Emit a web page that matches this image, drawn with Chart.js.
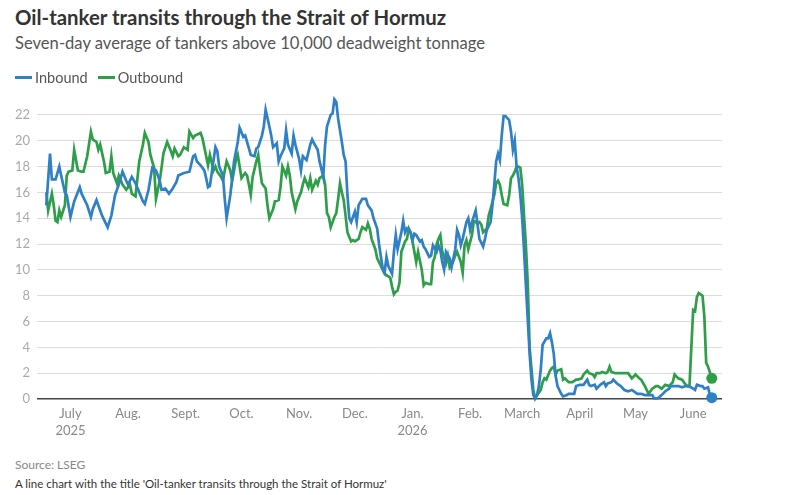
<!DOCTYPE html>
<html>
<head>
<meta charset="utf-8">
<script src="https://cdn.jsdelivr.net/npm/chart.js@4.4.1/dist/chart.umd.min.js"></script>
<style>
  body { margin: 0; width: 812px; height: 495px; background: #fff; font-family: Lato, "Noto Sans", sans-serif; position: relative; overflow: hidden; }
  #title { position: absolute; left: 15px; top: 5px; font-size: 20.4px; font-weight: 700; color: #333; white-space: nowrap; }
  #subtitle { position: absolute; left: 15px; top: 33px; font-size: 16.6px; color: #555; white-space: nowrap; }
  #legend { position: absolute; left: 15px; top: 69px; font-size: 14.5px; color: #555; display: flex; z-index: 2; }
  .key { display: flex; align-items: center; margin-right: 10px; }
  .swatch { width: 17px; height: 3px; margin-right: 3px; }
  #chartBox { position: absolute; left: 0; top: 82px; }
  #source { position: absolute; left: 15px; top: 457px; font-size: 12px; color: #888; }
  #caption { position: absolute; left: 15px; top: 477px; font-size: 11.5px; color: #333; white-space: nowrap; }
</style>
</head>
<body>
<div id="chartBox"><canvas id="hormuzChart" width="740" height="363"></canvas></div>
<div id="title">Oil-tanker transits through the Strait of Hormuz</div>
<div id="subtitle">Seven-day average of tankers above 10,000 deadweight tonnage</div>
<div id="legend">
  <div class="key"><span class="swatch" style="background:#2f80c5"></span>Inbound</div>
  <div class="key"><span class="swatch" style="background:#2e9e48"></span>Outbound</div>
</div>
<div id="source">Source: LSEG</div>
<div id="caption">A line chart with the title 'Oil-tanker transits through the Strait of Hormuz'</div>

<script>
// days counted from July 1, 2025
const inboundDays = [1,3,4,6,8,9,11,12,14,16,19,20,23,25,26,28,30,31,33,34,36,38,40,42,44,45,47,49,51,53,54,56,58,60,62,63,65,67,69,71,72,75,78,80,81,82,84,86,87,88,89,90,92,93,94,96,97,98,100,102,104,105,107,108,110,111,113,114,115,117,118,119,121,122,123,125,126,127,129,130,131,133,134,135,137,138,139,141,143,144,145,147,148,150,151,152,154,155,156,157,158,160,161,162,163,164,165,167,168,169,171,173,174,176,177,179,180,181,182,183,184,185,187,188,189,190,192,193,194,195,197,198,199,200,202,203,204,205,207,208,209,211,212,213,214,215,216,218,219,221,222,223,224,225,227,228,229,230,232,233,234,236,237,238,240,241,242,243,244,245,246,247,248,250,251,252,253,254,255,256,257,258,259,260,261,262,263,264,265,266,267,268,270,271,272,273,274,275,276,277,278,279,281,282,285,286,288,290,292,293,294,296,297,299,301,302,303,305,306,308,310,312,314,316,318,319,321,323,325,327,328,330,332,334,336,337,339,341,343,345,346,348,350,351,353,354,355,357,358,359];
const inboundTankers = [15.0,19.0,17.0,17.0,18.0,17.3,16.0,15.8,14.1,15.3,16.4,15.9,15.0,14.1,14.7,15.4,14.6,14.2,13.6,13.3,14.2,15.8,16.6,17.6,16.9,16.6,17.2,16.7,16.0,15.3,15.1,16.2,17.9,17.7,16.9,16.2,16.3,15.9,16.3,16.8,17.3,17.5,17.6,18.8,18.9,18.4,18.1,17.7,17.1,16.4,16.5,17.5,19.5,19.2,18.0,17.3,15.5,14.0,15.8,18.4,19.9,21.0,20.3,20.4,19.4,18.9,18.8,19.4,19.5,20.4,21.1,22.4,21.1,20.4,19.5,19.8,18.4,18.8,19.4,20.8,19.7,19.0,20.4,19.7,18.6,17.7,18.8,18.5,19.7,20.1,19.8,19.3,18.4,17.2,19.7,21.1,22.0,22.1,23.2,23.0,21.7,19.9,18.9,18.4,15.8,14.0,13.7,14.5,13.7,15.0,15.5,15.5,15.0,14.6,14.0,13.2,12.0,11.0,10.1,9.8,11.0,10.3,9.7,11.4,12.7,11.6,12.9,13.8,12.9,13.2,12.9,12.3,12.8,12.7,12.2,12.3,11.8,11.6,11.0,11.1,11.9,11.4,11.9,11.5,10.6,10.0,11.4,10.9,10.2,11.6,13.1,12.7,11.9,12.4,13.7,14.0,13.1,13.7,14.6,13.5,12.4,11.8,12.4,13.1,13.7,15.0,16.6,18.4,19.0,18.5,20.4,21.9,21.9,21.6,20.7,19.3,20.0,18.0,17.1,15.8,14.0,11.5,8.8,6.2,3.5,1.5,0.3,0.05,0.3,1.0,2.3,4.2,4.7,4.7,5.1,4.4,3.5,1.8,1.0,0.7,0.4,0.2,0.3,0.4,0.4,1.0,1.1,1.1,1.5,1.1,1.0,1.1,0.8,1.1,1.3,1.0,1.2,1.3,1.5,1.2,1.0,0.7,0.6,0.7,0.5,0.4,0.4,0.3,0.3,0.3,0.05,0.05,0.3,0.6,0.8,1.0,1.0,1.0,0.9,1.0,1.0,0.9,0.7,1.1,1.0,1.0,0.8,0.9,0.3,0.1];

const outboundDays = [1,2,4,5,6,7,8,9,11,12,13,15,16,18,20,21,23,25,26,28,29,30,32,33,35,36,37,39,40,42,44,46,47,49,51,53,54,56,57,59,60,62,63,64,66,68,69,70,72,73,75,77,78,80,81,84,85,87,88,89,91,92,93,95,96,97,98,100,101,102,103,104,105,106,108,109,110,111,112,114,115,116,117,119,120,121,123,124,126,127,128,130,131,132,133,135,136,138,139,140,142,143,144,146,147,148,150,151,152,153,154,156,157,158,159,160,161,162,163,165,166,167,169,170,171,173,174,175,176,178,179,180,182,183,184,186,187,188,189,190,191,192,194,195,196,197,198,200,201,203,204,205,207,208,209,210,211,212,213,214,216,217,218,220,221,222,224,225,226,227,228,230,231,233,234,235,236,238,239,240,242,243,244,245,246,247,249,250,251,252,253,254,255,256,257,258,259,260,261,263,264,265,267,268,269,270,272,273,274,275,276,278,279,280,282,284,286,287,289,290,292,293,295,296,297,299,300,302,303,304,305,307,309,311,312,314,316,318,320,321,323,325,327,329,330,332,334,336,338,339,341,343,345,346,347,348,349,350,351,352,354,355,356,357,359];
const outboundTankers = [16.0,14.6,15.9,15.0,13.8,13.7,14.6,14.1,15.0,17.3,17.6,17.7,19.3,17.7,17.6,17.6,18.8,20.7,20.1,19.9,19.3,19.7,18.4,17.5,17.6,18.8,17.5,16.7,17.3,16.6,16.2,16.6,15.9,15.7,18.4,19.7,20.6,19.9,18.9,17.9,15.5,16.9,17.9,19.0,19.9,19.2,18.8,19.4,18.8,18.9,19.5,19.3,20.7,20.2,20.4,20.6,20.2,18.8,18.1,18.9,17.7,18.0,17.6,17.2,16.9,17.7,18.4,17.7,16.9,17.7,18.5,18.9,18.0,17.1,17.5,17.3,16.6,15.8,17.2,18.4,18.9,17.7,16.7,16.3,15.0,14.0,14.7,15.3,15.4,16.4,18.0,17.3,18.0,17.3,16.0,14.7,15.3,16.0,16.6,17.1,16.4,17.1,16.2,16.9,16.6,17.1,17.3,16.6,14.4,14.1,13.3,14.1,14.4,15.5,16.7,16.0,15.4,14.2,12.9,12.2,12.3,12.2,12.4,12.9,13.3,13.1,13.6,13.2,12.4,11.6,10.9,10.6,10.0,9.7,9.6,9.4,8.7,8.1,8.3,8.4,9.0,11.4,12.2,12.4,13.2,12.9,12.2,10.6,11.4,10.0,8.8,9.0,8.9,8.9,10.6,11.0,12.0,12.4,12.7,11.4,10.5,11.1,10.2,10.7,11.1,11.4,10.6,9.8,11.9,12.3,11.6,12.7,13.8,13.6,13.7,13.5,12.9,13.2,14.2,14.7,15.8,16.7,16.9,16.6,15.8,15.1,15.0,15.8,17.1,17.3,17.6,18.0,18.0,17.9,16.6,14.2,11.9,9.0,4.0,0.7,0.05,0.3,0.7,1.3,1.6,1.5,2.2,2.4,2.5,1.9,2.2,2.3,1.5,1.6,1.3,1.3,1.5,1.5,1.6,1.9,2.2,2.0,1.9,1.7,2.0,2.0,2.1,2.0,2.1,2.5,2.1,2.0,2.0,2.0,2.0,2.0,1.6,1.9,1.6,1.5,1.0,0.4,0.8,1.0,1.0,0.8,1.1,1.0,1.3,1.9,1.6,1.5,1.1,1.0,1.0,4.0,6.9,6.8,7.9,8.2,8.0,6.4,2.8,2.5,1.6];

const monthDays = [14, 45, 76, 106, 137, 167, 198, 229, 257, 288, 318, 349];
const monthLabels = [['July', '2025'], 'Aug.', 'Sept.', 'Oct.', 'Nov.', 'Dec.', ['Jan.', '2026'], 'Feb.', 'March', 'April', 'May', 'June'];
const yTicks = [0, 2, 4, 6, 8, 10, 12, 14, 16, 18, 20, 22];

const BLUE = '#2f80c5';
const GREEN = '#2e9e48';

function series(days, values) {
  return days.map((d, i) => ({ x: d, y: values[i] }));
}

function lastDot(n) {
  return ctx => (ctx.dataIndex === n - 1 ? 5.5 : 0);
}

const config = {
  type: 'line',
  data: {
    datasets: [{
      label: 'Inbound',
      data: series(inboundDays, inboundTankers),
      borderColor: BLUE,
      backgroundColor: BLUE,
      borderWidth: 2.7,
      pointRadius: lastDot(inboundDays.length),
      pointBorderWidth: 0,
      pointHoverRadius: 0,
      clip: false
    }, {
      label: 'Outbound',
      data: series(outboundDays, outboundTankers),
      borderColor: GREEN,
      backgroundColor: GREEN,
      borderWidth: 2.7,
      pointRadius: lastDot(outboundDays.length),
      pointBorderWidth: 0,
      pointHoverRadius: 0,
      clip: false
    }]
  },
  options: {
    responsive: false,
    animation: false,
    layout: { padding: { top: 0, right: 18, left: 0, bottom: 0 } },
    plugins: { legend: { display: false }, tooltip: { enabled: false } },
    scales: {
      x: {
        type: 'linear',
        min: -4,
        max: 364.5,
        grid: { display: false, drawTicks: false },
        border: { display: false },
        afterBuildTicks: scale => { scale.ticks = monthDays.map(v => ({ value: v })); },
        afterFit: scale => { scale.height = 46; },
        ticks: {
          autoSkip: false,
          maxRotation: 0,
          padding: 6,
          color: '#888',
          font: { family: 'Lato, "Noto Sans", sans-serif', size: 13, lineHeight: 1.3 },
          callback: (value, index) => monthLabels[index]
        }
      },
      y: {
        min: 0,
        max: 23.4,
        grid: {
          drawTicks: false,
          color: ctx => (ctx.tick && ctx.tick.value === 0 ? '#444' : '#dcdcdc'),
          lineWidth: ctx => (ctx.tick && ctx.tick.value === 0 ? 1.5 : 1)
        },
        border: { display: false },
        afterBuildTicks: scale => { scale.ticks = yTicks.map(v => ({ value: v })); },
        afterFit: scale => { scale.width = 37; },
        ticks: {
          padding: 7,
          color: '#aaa',
          font: { family: 'Lato, "Noto Sans", sans-serif', size: 13 }
        }
      }
    }
  }
};

window.onload = function() {
  const ctx = document.getElementById('hormuzChart').getContext('2d');
  new Chart(ctx, config);
};
</script>
</body>
</html>
